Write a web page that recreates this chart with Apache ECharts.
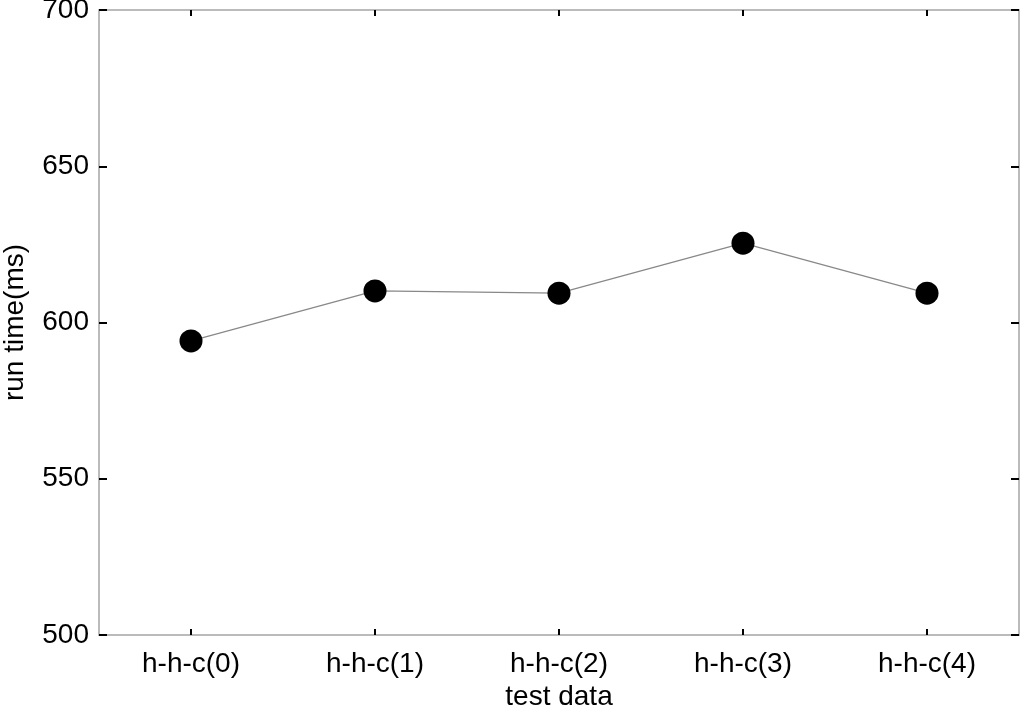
<!DOCTYPE html>
<html><head><meta charset="utf-8">
<script src="https://cdn.jsdelivr.net/npm/echarts@6/dist/echarts.min.js"></script>
<style>html,body{margin:0;padding:0;background:#fff}#c{width:1024px;height:709px}</style>
</head><body><div id="c"></div>
<script>
const categories = ['h-h-c(0)', 'h-h-c(1)', 'h-h-c(2)', 'h-h-c(3)', 'h-h-c(4)'];
const runTime = [594.1, 610.1, 609.4, 625.4, 609.4];
const yTicks = { min: 500, max: 700, interval: 50 };

const font = 'Liberation Sans, Arial, sans-serif';
const chart = echarts.init(document.getElementById('c'), null, { renderer: 'canvas' });
const tickStyle = { show: true, inside: true, length: 6, alignWithLabel: true, lineStyle: { color: '#000', width: 2 } };
chart.setOption({
  animation: false,
  backgroundColor: '#fff',
  grid: { left: 99, right: 5, top: 10, bottom: 74, containLabel: false, outerBoundsMode: 'none' },
  xAxis: [{
    type: 'category', data: categories, boundaryGap: true,
    name: 'test data', nameLocation: 'middle', nameGap: 48,
    nameTextStyle: { fontFamily: font, fontSize: 28, color: '#000' },
    axisLine: { lineStyle: { color: '#bbb', width: 2 } },
    axisTick: tickStyle,
    axisLabel: { fontFamily: font, fontSize: 28, color: '#000', margin: 15 },
    splitLine: { show: false }
  }, {
    type: 'category', data: categories, position: 'top', boundaryGap: true,
    axisLine: { lineStyle: { color: '#bbb', width: 2 } },
    axisTick: tickStyle, axisLabel: { show: false }, splitLine: { show: false }
  }],
  yAxis: [{
    type: 'value', min: yTicks.min, max: yTicks.max, interval: yTicks.interval,
    name: 'run time(ms)', nameLocation: 'middle', nameGap: 70, nameRotate: 90,
    nameTextStyle: { fontFamily: font, fontSize: 28, color: '#000' },
    axisLine: { show: true, lineStyle: { color: '#bbb', width: 2 } },
    axisTick: { show: true, inside: true, length: 8, lineStyle: { color: '#000', width: 2 } },
    axisLabel: { fontFamily: font, fontSize: 28, color: '#000', margin: 10 },
    splitLine: { show: false }
  }, {
    type: 'value', min: yTicks.min, max: yTicks.max, interval: yTicks.interval, position: 'right',
    axisLine: { show: true, lineStyle: { color: '#bbb', width: 2 } },
    axisTick: { show: true, inside: true, length: 8, lineStyle: { color: '#000', width: 2 } },
    axisLabel: { show: false }, splitLine: { show: false }
  }],
  series: [{
    type: 'line', data: runTime, symbol: 'circle', symbolSize: 23,
    itemStyle: { color: '#000' },
    lineStyle: { color: '#888', width: 1.2 }
  }]
});
</script></body></html>
